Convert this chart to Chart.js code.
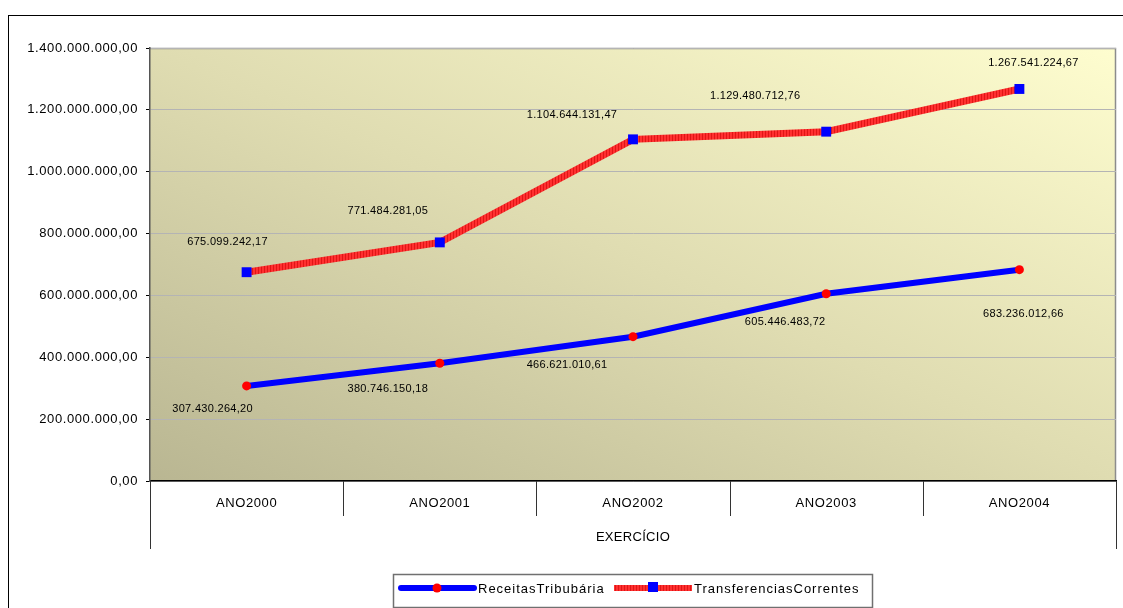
<!DOCTYPE html>
<html>
<head>
<meta charset="utf-8">
<script src="https://cdn.jsdelivr.net/npm/chart.js@4"></script>
<style>
  body { margin: 0; background: #fff; }
  #wrap { position: relative; width: 1123px; height: 608px; overflow: hidden; }
  #frame { position: absolute; left: 8px; top: 15px; width: 1300px; height: 800px; border: 1px solid #000; }
  #chart { position: absolute; left: 0; top: 0; }
</style>
</head>
<body>
<div id="wrap">
  <div id="frame"></div>
  <canvas id="chart" width="1123" height="608"></canvas>
</div>
<script>
// Data
const categories = ['ANO2000', 'ANO2001', 'ANO2002', 'ANO2003', 'ANO2004'];
const receitasTributaria = [307430264.20, 380746150.18, 466621010.61, 605446483.72, 683236012.66];
const transferenciasCorrentes = [675099242.17, 771484281.05, 1104644131.47, 1129480712.76, 1267541224.67];
const yTicks = [0, 200000000, 400000000, 600000000, 800000000, 1000000000, 1200000000, 1400000000];

const FONT = 'Liberation Sans, Arial, sans-serif';

// 1.234.567,89
function formatBR(v) {
  const parts = Math.abs(v).toFixed(2).split('.');
  return parts[0].replace(/\B(?=(\d{3})+(?!\d))/g, '.') + ',' + parts[1];
}

// striped red texture for the transfer line
function redPattern() {
  const c = document.createElement('canvas');
  c.width = 3; c.height = 3;
  const g = c.getContext('2d');
  g.fillStyle = '#ff3030';
  g.fillRect(0, 0, 3, 3);
  g.fillStyle = '#e01616';
  g.fillRect(0, 0, 1, 3);
  return g.createPattern(c, 'repeat');
}
const ctx = document.getElementById('chart').getContext('2d');
const redFill = redPattern();

// diagonal gradient plot background (isolines along the TL-BR diagonal)
const plotBackground = {
  id: 'plotBackground',
  beforeDraw(chart) {
    const { ctx, chartArea: a } = chart;
    const w = a.right - a.left, h = a.bottom - a.top;
    const cx = (a.left + a.right) / 2, cy = (a.top + a.bottom) / 2;
    const k = (w * h) / (w * w + h * h);
    const g = ctx.createLinearGradient(cx - k * h, cy + k * w, cx + k * h, cy - k * w);
    g.addColorStop(0, '#b9b692');
    g.addColorStop(0.5, '#dfdcb1');
    g.addColorStop(1, '#fefdcf');
    ctx.save();
    ctx.fillStyle = g;
    ctx.fillRect(a.left, a.top, w, h);
    ctx.strokeStyle = '#8c8c8c';
    ctx.lineWidth = 1.5;
    ctx.beginPath();
    ctx.moveTo(a.left, a.top + 0.5);
    ctx.lineTo(a.right - 0.5, a.top + 0.5);
    ctx.lineTo(a.right - 0.5, a.bottom);
    ctx.stroke();
    ctx.restore();
    ctx.letterSpacing = '0.6px';
  }
};

// category separators, axis title and legend box under the plot
const categoryAxis = {
  id: 'categoryAxis',
  afterDraw(chart) {
    const { ctx, chartArea: a, scales: { x } } = chart;
    const step = (x.right - x.left) / categories.length;
    ctx.save();
    ctx.strokeStyle = '#333';
    ctx.lineWidth = 1;
    for (let i = 0; i <= categories.length; i++) {
      const px = Math.round(x.left + i * step) + 0.5;
      const end = (i === 0 || i === categories.length) ? 549 : 516;
      ctx.beginPath();
      ctx.moveTo(px, a.bottom);
      ctx.lineTo(px, end);
      ctx.stroke();
    }
    ctx.fillStyle = '#000';
    ctx.font = '13px ' + FONT;
    ctx.letterSpacing = '0.3px';
    ctx.textAlign = 'center';
    ctx.textBaseline = 'middle';
    ctx.fillText('EXERCÍCIO', (x.left + x.right) / 2, 537);

    // legend
    ctx.strokeStyle = '#707070';
    ctx.lineWidth = 1.5;
    ctx.strokeRect(393.5, 574.5, 479, 33);
    ctx.lineCap = 'round';
    ctx.strokeStyle = '#0000ff';
    ctx.lineWidth = 6;
    ctx.beginPath(); ctx.moveTo(401, 588); ctx.lineTo(474, 588); ctx.stroke();
    ctx.fillStyle = '#ff0000';
    ctx.beginPath(); ctx.arc(437, 588, 4.5, 0, Math.PI * 2); ctx.fill();
    ctx.lineCap = 'butt';
    ctx.strokeStyle = redFill;
    ctx.beginPath(); ctx.moveTo(614, 588); ctx.lineTo(692, 588); ctx.stroke();
    ctx.fillStyle = '#0000ff';
    ctx.fillRect(648, 582, 10, 10);
    ctx.fillStyle = '#000';
    ctx.textAlign = 'left';
    ctx.letterSpacing = '1px';
    ctx.fillText('ReceitasTribubária', 478, 589);
    ctx.fillText('TransferenciasCorrentes', 694, 589);
    ctx.restore();
  }
};

// value labels next to each point
const valueLabels = {
  id: 'valueLabels',
  afterDatasetsDraw(chart, args, opts) {
    const { ctx } = chart;
    ctx.save();
    ctx.fillStyle = '#000';
    ctx.font = '11px ' + FONT;
    ctx.letterSpacing = '0.3px';
    ctx.textAlign = 'center';
    ctx.textBaseline = 'middle';
    chart.data.datasets.forEach((ds, di) => {
      const meta = chart.getDatasetMeta(di);
      const offs = opts.offsets[di];
      meta.data.forEach((pt, i) => {
        ctx.fillText(formatBR(ds.data[i]), pt.x + offs[i][0], pt.y + offs[i][1]);
      });
    });
    ctx.restore();
  }
};

new Chart(ctx, {
  type: 'line',
  data: {
    labels: categories,
    datasets: [
      {
        label: 'ReceitasTribubária',
        data: receitasTributaria,
        borderColor: '#0000ff',
        borderWidth: 6,
        pointStyle: 'circle',
        pointRadius: 4.5,
        pointBackgroundColor: '#ff0000',
        pointBorderWidth: 0,
        tension: 0
      },
      {
        label: 'TransferenciasCorrentes',
        data: transferenciasCorrentes,
        borderColor: redFill,
        borderWidth: 7,
        pointStyle: 'rect',
        pointRadius: 7,
        pointBackgroundColor: '#0000ff',
        pointBorderWidth: 0,
        tension: 0
      }
    ]
  },
  options: {
    responsive: false,
    animation: false,
    layout: { padding: { top: 48, right: 5, left: 0, bottom: 0 } },
    plugins: {
      legend: { display: false },
      tooltip: { enabled: false },
      valueLabels: {
        offsets: [
          [[-34, 23], [-52, 26], [-66, 28], [-41, 28], [4, 44]],
          [[-19, -30], [-52, -31], [-61, -24], [-71, -36], [14, -26]]
        ]
      }
    },
    scales: {
      x: {
        type: 'category',
        offset: true,
        grid: { display: false, drawTicks: false },
        border: { display: true, color: '#000', width: 1.5 },
        ticks: { color: '#000', font: { family: FONT, size: 13 }, padding: 15, maxRotation: 0 },
        afterFit(scale) { scale.height = 127; }
      },
      y: {
        min: 0,
        max: 1400000000,
        afterBuildTicks(scale) { scale.ticks = yTicks.map(v => ({ value: v })); },
        grid: { color: '#b4b4b4', tickColor: '#000', tickLength: 4, lineWidth: 1 },
        border: { display: true, color: '#555', width: 1.5 },
        ticks: {
          color: '#000',
          font: { family: FONT, size: 13 },
          padding: 8,
          callback: v => formatBR(v)
        },
        afterFit(scale) { scale.width = 150; }
      }
    }
  },
  plugins: [plotBackground, categoryAxis, valueLabels]
});
</script>
</body>
</html>
